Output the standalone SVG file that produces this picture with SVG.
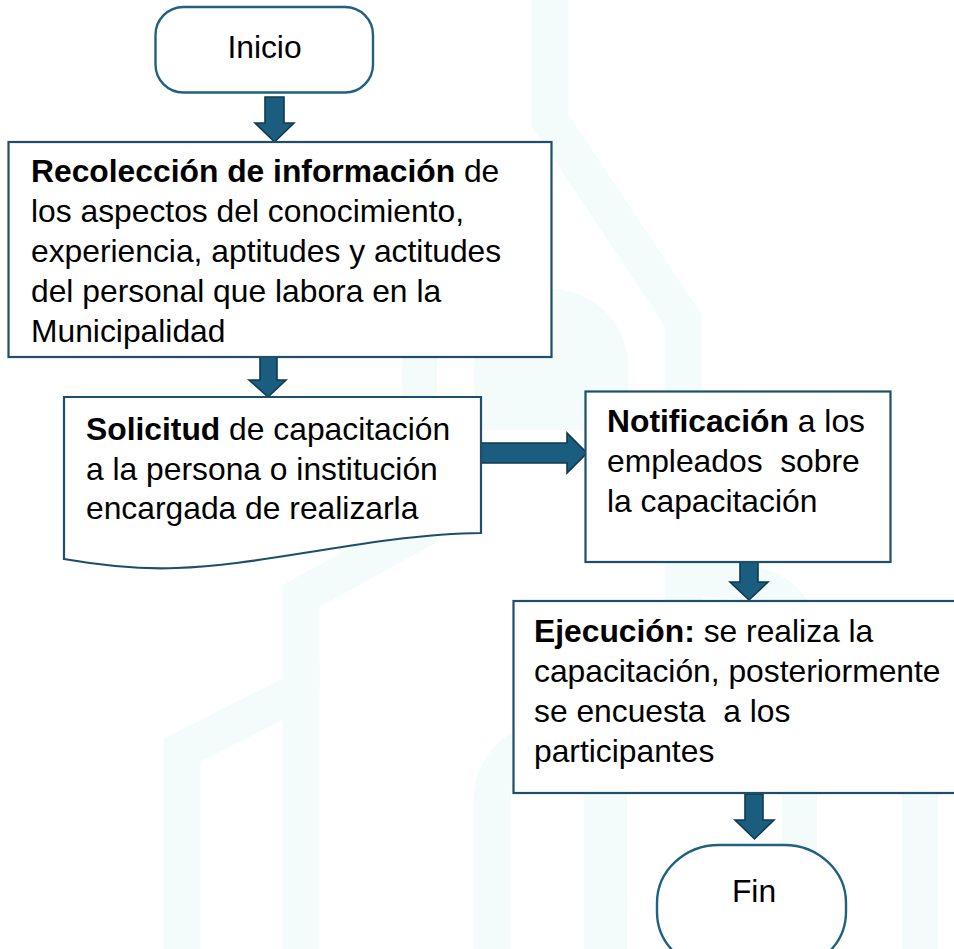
<svg xmlns="http://www.w3.org/2000/svg" width="954" height="949" viewBox="0 0 954 949">
  <style>
    .wm { fill: none; stroke: #f3fbfb; stroke-width: 37; stroke-linejoin: miter; }
    .wmf { fill: #f3fbfb; stroke: none; }
    .box { fill: #ffffff; stroke: #1d4f69; stroke-width: 2.2; }
    .term { fill: #ffffff; stroke: #21607f; stroke-width: 2.4; }
    .arrow { fill: #1a5d7f; stroke: #0f3a50; stroke-width: 1.6; stroke-linejoin: miter; }
    text { font-family: "Liberation Sans", Arial, sans-serif; font-size: 31.8px; fill: #000000; }
    .b { font-weight: bold; }
    .pre { white-space: pre; }
  </style>

  <rect x="0" y="0" width="954" height="949" fill="#ffffff"/>

  <!-- faint background watermark -->
  <g id="watermark">
    <path class="wm" d="M550,0 V120 L683,320 V601"/>
    <path class="wmf" d="M474,430 V366 A77,77 0 0 1 628,366 V430 Z"/>
    <rect class="wmf" x="402" y="340" width="35" height="80"/>
    <path class="wm" d="M182,949 V750 L301,690 V949"/>
    <path class="wm" d="M301,690 V596 L430,525"/>
    <path class="wm" d="M492,949 V800 A60,60 0 0 1 552,740"/>
    <rect class="wmf" x="584" y="793" width="43" height="156"/>
    <rect class="wmf" x="782" y="793" width="35" height="156"/>
    <rect class="wmf" x="902" y="793" width="36" height="156"/>
    <path class="wm" d="M700,578 Q799,578 799,640"/>
  </g>

  <g id="connectors">
    <polygon class="arrow" points="265,97 284,97 284,123 294,123 274.5,142 255,123 265,123"/>
    <polygon class="arrow" points="260,357 277,357 277,380 286,380 268,397 249,380 260,380"/>
    <polygon class="arrow" points="481,443 567,443 567,433 587,453 567,473 567,463 481,463"/>
    <polygon class="arrow" points="740,562 758,562 758,582 768,582 749,600 730,582 740,582"/>
    <polygon class="arrow" points="745,794 763,794 763,820 774,820 754.5,839 735,820 745,820"/>
  </g>

  <g id="inicio">
    <rect class="term" x="155.5" y="7" width="217.5" height="85.5" rx="28" ry="28"/>
    <text x="264.5" y="57.5" text-anchor="middle">Inicio</text>
  </g>

  <g id="recoleccion">
    <rect class="box" x="8.5" y="142" width="543" height="215"/>
    <text x="31" y="182"><tspan class="b">Recolección de información</tspan> de</text>
    <text x="31" y="222">los aspectos del conocimiento,</text>
    <text x="31" y="262">experiencia, aptitudes y actitudes</text>
    <text x="31" y="302">del personal que labora en la</text>
    <text x="31" y="342">Municipalidad</text>
  </g>

  <g id="solicitud">
    <path class="box" d="M64,397 H481 V533 C460,533 430,535 390,540 C300,552 240,566 176,568 C150,569 110,567 64,559 Z"/>
    <text x="86" y="439.5"><tspan class="b">Solicitud</tspan> de capacitación</text>
    <text x="86" y="479.5">a la persona o institución</text>
    <text x="86" y="519">encargada de realizarla</text>
  </g>

  <g id="notificacion">
    <rect class="box" x="585.5" y="391.5" width="305" height="170.5"/>
    <text x="607" y="431.5"><tspan class="b">Notificación</tspan> a los</text>
    <text x="607" y="471.5" class="pre">empleados  sobre</text>
    <text x="607" y="511.5">la capacitación</text>
  </g>

  <g id="ejecucion">
    <rect class="box" x="513.5" y="601" width="460" height="192"/>
    <text x="534" y="641.5"><tspan class="b">Ejecución:</tspan> se realiza la</text>
    <text x="534" y="681.5">capacitación, posteriormente</text>
    <text x="534" y="721.5" class="pre">se encuesta  a los</text>
    <text x="534" y="761.5">participantes</text>
  </g>

  <g id="fin">
    <rect class="term" x="657" y="845" width="189" height="125" rx="62" ry="58"/>
    <text x="754" y="902" text-anchor="middle">Fin</text>
  </g>
</svg>
